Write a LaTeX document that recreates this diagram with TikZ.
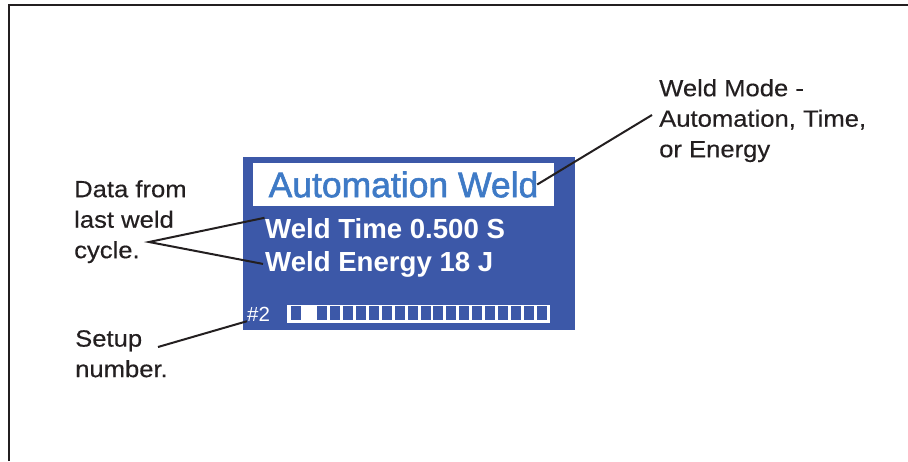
\documentclass[tikz,border=0pt]{standalone}
\usepackage{fontspec}
\setmainfont{Liberation Sans}
\newfontfamily\notefont{Liberation Sans}[FakeStretch=1.09,FakeBold=0.4]
\newfontfamily\titlefont{Liberation Sans}[FakeBold=1.6]
\usetikzlibrary{positioning}
\definecolor{screenblue}{RGB}{60,88,168}
\definecolor{titleblue}{RGB}{62,122,198}
\definecolor{inkgray}{RGB}{35,31,32}

\begin{document}
\begin{tikzpicture}[x=1pt, y=-1pt,
  note/.style={anchor=north west, inner sep=0pt, align=left, text=inkgray, font=\notefont\fontsize{23.5}{30.5}\selectfont},
  readout/.style={anchor=base west, inner sep=0pt, text=white, font=\bfseries\fontsize{27.6}{30}\selectfont},
  leader/.style={draw=inkgray, line width=2pt}]
\useasboundingbox (0,0) rectangle (908,461);
\draw[inkgray, line width=2.5pt] (9,461) -- (9,5) -- (908,5);

% display panel
\node[fill=screenblue, minimum width=332pt, minimum height=173pt, inner sep=0pt] (screen) at (409,243.5) {};
\node[fill=white, minimum width=301pt, minimum height=43pt, inner sep=0pt, text=titleblue, font=\titlefont\fontsize{35.5}{36}\selectfont] (title) at (403.5,184.5) {Automation Weld};
\node[readout] (wtime) at (265,238) {Weld Time 0.500 S};
\node[readout] (wenergy) at (265,271) {Weld Energy 18 J};
\node[anchor=base west, inner sep=0pt, text=white, font=\fontsize{20.5}{22}\selectfont] (num) at (247,321) {\#2};
\node[fill=white, minimum width=263pt, minimum height=18.5pt, inner sep=0pt] (bar) at (418.5,313.75) {};
\foreach \i in {0,2,3,...,19}
  \fill[screenblue] (291+12.95*\i,306) rectangle ++(10,13.5);

% callouts
\node[note] (mode) at (659,79) {Weld Mode -\\Automation, Time,\\or Energy};
\node[note] (data) at (74,180) {Data from\\last weld\\cycle.};
\node[note] (setup) at (75,330) {Setup\\number.};

\coordinate (modefoot) at (652,115);
\coordinate (datafoot) at (149,242);
\coordinate (setupfoot) at (158,347);
\draw[leader] (modefoot) -- ([xshift=-17pt]title.east);
\draw[leader] ([xshift=-0.5pt]wtime.north west) -- (datafoot) -- ([xshift=-2pt]wenergy.west);
\draw[leader] (setupfoot) -- (num.south west);
\end{tikzpicture}
\end{document}
